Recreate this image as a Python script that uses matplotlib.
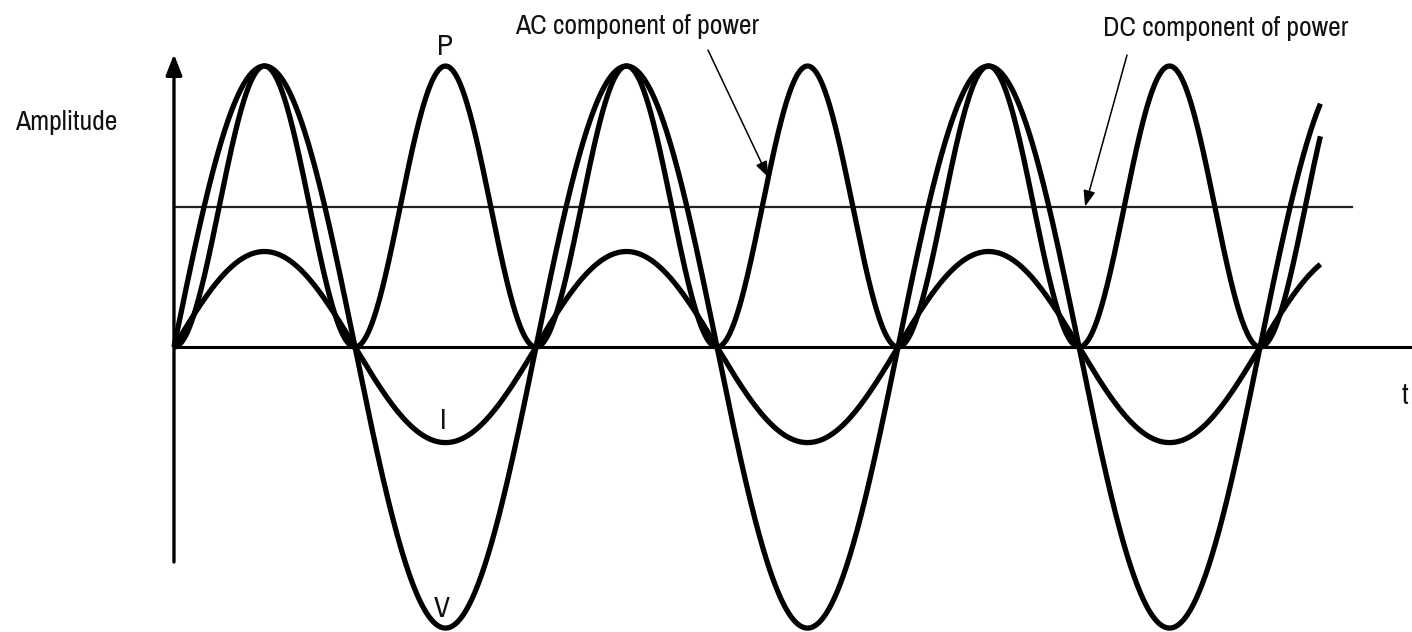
import numpy as np
import matplotlib.pyplot as plt
from matplotlib import font_manager as fm

# pick a narrow sans face if one is installed, otherwise DejaVu Sans
narrow = [f for f in fm.fontManager.ttflist
          if ('Narrow' in f.fname or 'Condensed' in f.fname)
          and f.style == 'normal' and f.weight in (400, 'normal', 'regular')]
narrow.sort(key=lambda f: ('Narrow' not in f.fname, f.fname))
if narrow:
    label_font = fm.FontProperties(fname=narrow[0].fname)
else:
    label_font = fm.FontProperties(family='DejaVu Sans', stretch='condensed')

# waveform parameters, amplitudes normalised to the voltage peak
v_peak = 1.0
i_peak = 0.34
t_end = 1140      # phase (degrees) where the curves stop
dc_end = 1171     # phase where the DC level line stops
ac_mark = 591     # phase the AC arrow points at
dc_mark = 906     # phase the DC arrow points at

t = np.linspace(0, t_end, 3000)
v = v_peak * np.sin(np.radians(t))
i = i_peak * np.sin(np.radians(t))
p = v * i / i_peak          # instantaneous power, scaled to the V peak
p_dc = v_peak / 2           # average of sin^2


def power(deg):
    return v_peak * np.sin(np.radians(deg)) ** 2


fig = plt.figure(figsize=(14.12, 6.32), dpi=100)
ax = fig.add_axes([0, 0, 1, 1])
ax.set_xlim(-173.0, 1231.1)
ax.set_ylim(-1.014, 1.235)
ax.axis('off')

# axes
ax.plot([0, 1231.1], [0, 0], color='black', lw=2.2)
ax.annotate('', xy=(0, 1.042), xytext=(0, -0.765),
            arrowprops=dict(arrowstyle='-|>,head_length=0.9,head_width=0.35',
                            color='black', lw=2.4, shrinkA=0, shrinkB=0,
                            mutation_scale=14))

# DC level
ax.plot([0, dc_end], [p_dc, p_dc], color='#222222', lw=1.6)

# waveforms
for y in (v, i, p):
    ax.plot(t, y, color='black', lw=3.8, solid_capstyle='butt')

# labels
txt = dict(fontproperties=label_font, color='#111111', ha='center', va='center')
ax.text(-107.4, 0.80, 'Amplitude', size=20, **txt)
ax.text(460.4, 1.142, 'AC component of power', size=20, **txt)
ax.text(1046, 1.132, 'DC component of power', size=20, **txt)
ax.text(269.5, 1.068, 'P', size=21, **txt)
ax.text(267.5, -0.26, 'I', size=21, **txt)
ax.text(266.5, -0.929, 'V', size=21, **txt)
ax.text(1224, -0.174, 't', size=21, **txt)

arrow = dict(arrowstyle='-|>,head_length=0.8,head_width=0.3', color='black',
             lw=1.1, shrinkA=0, shrinkB=0, mutation_scale=12)
ax.annotate('', xy=(ac_mark, power(ac_mark)), xytext=(531.0, 1.057),
            arrowprops=arrow)
ax.annotate('', xy=(dc_mark, p_dc), xytext=(947.7, 1.039),
            arrowprops=arrow)

fig.savefig('out.png', dpi=100)
